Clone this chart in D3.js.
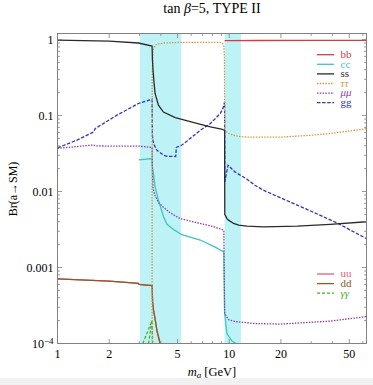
<!DOCTYPE html>
<html>
<head>
<meta charset="utf-8">
<script src="https://cdn.jsdelivr.net/npm/d3@7"></script>
<style>
body { margin: 0; background: #fff; }
text { font-family: "Liberation Serif", "Times New Roman", serif; }
</style>
</head>
<body>
<svg width="373" height="385"></svg>
<script>
// Values: [m_a in GeV, Br]
var bb = [[9.4, 0.965], [15, 0.97], [30, 0.975], [63, 0.975]];
var cc = [[2.97, 0.026], [3.55, 0.0272], [3.57, 0.021], [3.62, 0.0173], [3.7, 0.0116], [3.87, 0.0077],
          [4.14, 0.0047], [4.34, 0.0037], [4.8, 0.0031], [5.3, 0.0027], [6.78, 0.0023], [8.28, 0.00185],
          [9.3, 0.0016], [9.4, 0.00025], [9.7, 0.000135], [10.4, 0.000107], [11, 0.0001], [11.5, 0.00009]];
var ss = [[1, 0.98], [2, 0.955], [2.96, 0.9], [3.555, 0.82], [3.57, 0.55], [3.6, 0.4], [3.65, 0.27],
          [3.7, 0.195], [3.87, 0.137], [4.14, 0.111], [4.85, 0.094], [5.3, 0.089], [6.47, 0.079],
          [7.77, 0.071], [9.0, 0.066], [9.4, 0.064], [9.42, 0.005], [9.7, 0.0044], [9.9, 0.0042],
          [10.6, 0.0038], [11.35, 0.0036], [12.7, 0.0035], [15.8, 0.00342], [24.9, 0.0035],
          [38.7, 0.0037], [63, 0.004]];
var tautau = [[3.555, 0.00005], [3.56, 0.3], [3.6, 0.72], [3.7, 0.84], [3.79, 0.87], [4.2, 0.9],
              [5, 0.915], [7, 0.92], [8.8, 0.915], [9.15, 0.89], [9.3, 0.82], [9.38, 0.6], [9.41, 0.064],
              [9.9, 0.058], [10.6, 0.055], [11.5, 0.053], [12.7, 0.052], [20, 0.052], [30, 0.055],
              [38.7, 0.058], [63, 0.067]];
var mumu = [[1, 0.037], [1.3, 0.039], [1.62, 0.041], [1.68, 0.0398], [2.2, 0.0395], [3.0, 0.0395],
            [3.555, 0.038], [3.57, 0.018], [3.6, 0.011], [3.7, 0.0088], [3.9, 0.007], [4.14, 0.0062],
            [4.5, 0.0053], [5.18, 0.0044], [6.78, 0.0038], [8.28, 0.0034], [9.3, 0.0031],
            [9.4, 0.00025], [9.9, 0.000206], [10.8, 0.000195], [14.1, 0.000183], [19.8, 0.00018],
            [38.7, 0.000197], [63, 0.000226]];
var gg = [[1, 0.0375], [1.3, 0.0474], [1.62, 0.0607], [1.66, 0.0675], [2.22, 0.101], [2.96, 0.144],
          [3.555, 0.164], [3.57, 0.055], [3.62, 0.0428], [3.79, 0.035], [4.14, 0.0301], [4.34, 0.0291],
          [4.88, 0.0289], [4.92, 0.038], [5.3, 0.0409], [5.67, 0.046], [6.78, 0.064], [7.77, 0.0786],
          [8.87, 0.106], [9.2, 0.125], [9.4, 0.151], [9.42, 0.0134], [9.85, 0.0222], [10.8, 0.0181],
          [12.7, 0.0145], [14.1, 0.0121], [15.8, 0.0104], [19.8, 0.0083], [30, 0.0055], [43, 0.0038],
          [63, 0.0024]];
var uu = [[1, 0.00071], [2, 0.00066], [2.96, 0.00062], [2.98, 0.0006], [3.555, 0.00058], [3.58, 0.00035],
          [3.62, 0.00028], [3.7, 0.00021], [3.8, 0.000145], [3.96, 0.0001], [4.05, 0.00008]];
var dd = [[1, 0.00071], [2, 0.00066], [2.96, 0.00062], [2.98, 0.0006], [3.555, 0.00058], [3.58, 0.00035],
          [3.62, 0.00028], [3.7, 0.00021], [3.8, 0.000145], [3.96, 0.0001], [4.05, 0.00008]];
var gamgam = [[3.14, 0.0001], [3.55, 0.0002], [3.58, 0.0001], null, [3.39, 0.0001], [3.55, 0.0002]];

// cyan shaded mass windows
var bands = [[3.02, 5.25], [9.4, 11.7]];

var xTicks = [1, 2, 5, 10, 20, 50];
var xMinor = [3, 4, 6, 7, 8, 9, 30, 40, 60];
var yTicks = [1, 0.1, 0.01, 0.001, 1e-4];
var yTickLabels = ["1", "0.1", "0.01", "0.001", "10^-4"];

var series = [
    {name: "uu", data: uu, color: "#e0607a", dash: null, italic: false},
    {name: "dd", data: dd, color: "#8b5a2b", dash: null, italic: false},
    {name: "γγ", data: gamgam, color: "#4caf28", dash: "3,2", italic: true},
    {name: "cc", data: cc, color: "#3fc6c0", dash: null, italic: false},
    {name: "μμ", data: mumu, color: "#8a3fa0", dash: "1.5,1.3", italic: true},
    {name: "gg", data: gg, color: "#3535b5", dash: "3.5,1.6", italic: false},
    {name: "ττ", data: tautau, color: "#d49a45", dash: "1.5,1.3", italic: true},
    {name: "ss", data: ss, color: "#2a2a2a", dash: null, italic: false},
    {name: "bb", data: bb, color: "#cc4040", dash: null, italic: false}
];

var svg = d3.select("svg"),
    margin = {top: 33.5, right: 6.5, bottom: 41.5, left: 57.5},
    width = +svg.attr("width") - margin.left - margin.right,
    height = +svg.attr("height") - margin.top - margin.bottom;

// light grey strip at the bottom of the picture
svg.append("rect").attr("x", 0).attr("y", 378).attr("width", 373).attr("height", 7).attr("fill", "#f1f1f1");

var g = svg.append("g")
    .attr("transform", "translate(" + margin.left + "," + margin.top + ")");

var x = d3.scaleLog().domain([1, 63]).range([0, width]),
    y = d3.scaleLog().domain([1e-4, 1.2]).range([height, 0]);

g.append("clipPath").attr("id", "clip")
    .append("rect").attr("width", width).attr("height", height);

// Shaded bands
g.selectAll(".band")
    .data(bands)
    .enter().append("rect")
    .attr("class", "band")
    .attr("x", (d) => x(d[0]))
    .attr("y", 0)
    .attr("width", (d) => x(d[1]) - x(d[0]))
    .attr("height", height)
    .attr("fill", "#bdf3f7");

// Curves
var line = d3.line()
    .defined((d) => d !== null)
    .x((d) => x(d[0]))
    .y((d) => y(d[1]));

g.append("g").attr("clip-path", "url(#clip)")
    .selectAll("path")
    .data(series)
    .enter().append("path")
    .attr("d", (d) => line(d.data))
    .attr("fill", "none")
    .attr("stroke", (d) => d.color)
    .attr("stroke-width", 1.3)
    .attr("stroke-dasharray", (d) => d.dash);

// Frame and ticks (inward, on all sides)
var frameColor = "#808080";
g.append("rect").attr("width", width).attr("height", height)
    .attr("fill", "none").attr("stroke", frameColor).attr("stroke-width", 1);

var yMinor = [];
[1e-4, 1e-3, 1e-2, 0.1, 1].forEach((dec) => {
    for (var k = 2; k <= 9; k++) if (dec * k <= 1.2) yMinor.push(dec * k);
});

var ticks = g.append("g").attr("stroke", frameColor).attr("stroke-width", 0.8);
xTicks.concat(xMinor).forEach((v) => {
    var len = xTicks.indexOf(v) >= 0 ? 4.5 : 2.5;
    ticks.append("line").attr("x1", x(v)).attr("x2", x(v)).attr("y1", height).attr("y2", height - len);
    ticks.append("line").attr("x1", x(v)).attr("x2", x(v)).attr("y1", 0).attr("y2", len);
});
yTicks.concat(yMinor).forEach((v) => {
    var len = yTicks.indexOf(v) >= 0 ? 4.5 : 2.5;
    ticks.append("line").attr("y1", y(v)).attr("y2", y(v)).attr("x1", 0).attr("x2", len);
    ticks.append("line").attr("y1", y(v)).attr("y2", y(v)).attr("x1", width).attr("x2", width - len);
});

// Tick labels
g.selectAll(".xlab")
    .data(xTicks)
    .enter().append("text")
    .attr("x", (d) => x(d))
    .attr("y", height + 14.5)
    .attr("text-anchor", "middle")
    .attr("font-size", 12)
    .text((d) => d);

yTicks.forEach((v, i) => {
    var t = g.append("text")
        .attr("x", -4)
        .attr("y", y(v))
        .attr("dy", "0.35em")
        .attr("text-anchor", "end")
        .attr("font-size", 12);
    var parts = yTickLabels[i].split("^");
    t.append("tspan").text(parts[0]);
    if (parts.length > 1) {
        t.append("tspan").attr("dy", "-0.45em").attr("font-size", 9).text("\u2212" + parts[1].replace("-", ""));
    }
});

// Axis titles
var xl = svg.append("text")
    .attr("x", 212)
    .attr("y", 375.5)
    .attr("text-anchor", "middle")
    .attr("font-size", 12.5);
xl.append("tspan").attr("font-style", "italic").text("m");
xl.append("tspan").attr("font-style", "italic").attr("font-size", 9).attr("dy", 2).text("a");
xl.append("tspan").attr("dy", -2).text(" [GeV]");

svg.append("text")
    .attr("transform", "translate(17,189) rotate(-90)")
    .attr("text-anchor", "middle")
    .attr("font-size", 12)
    .text("Br(a\u2192SM)");

// Title
var title = svg.append("text")
    .attr("x", 212)
    .attr("y", 12.5)
    .attr("text-anchor", "middle")
    .attr("font-size", 14);
title.append("tspan").text("tan ");
title.append("tspan").attr("font-style", "italic").text("β");
title.append("tspan").text("=5, TYPE II");

// Legends
var legendTop = ["bb", "cc", "ss", "ττ", "μμ", "gg"],
    legendBottom = ["uu", "dd", "γγ"];

function drawLegend(names, y0) {
    names.forEach((n, i) => {
        var s = series.filter((d) => d.name === n)[0];
        var yy = y0 + i * 9.6;
        svg.append("line")
            .attr("x1", 317).attr("x2", 334)
            .attr("y1", yy).attr("y2", yy)
            .attr("stroke", s.color).attr("stroke-width", 1.3)
            .attr("stroke-dasharray", s.dash);
        svg.append("text")
            .attr("x", 340.5).attr("y", yy)
            .attr("dy", "0.3em")
            .attr("font-size", 11)
            .attr("font-style", s.italic ? "italic" : null)
            .attr("fill", s.color)
            .text(n);
    });
}
drawLegend(legendTop, 54.7);
drawLegend(legendBottom, 274);
</script>
</body>
</html>
